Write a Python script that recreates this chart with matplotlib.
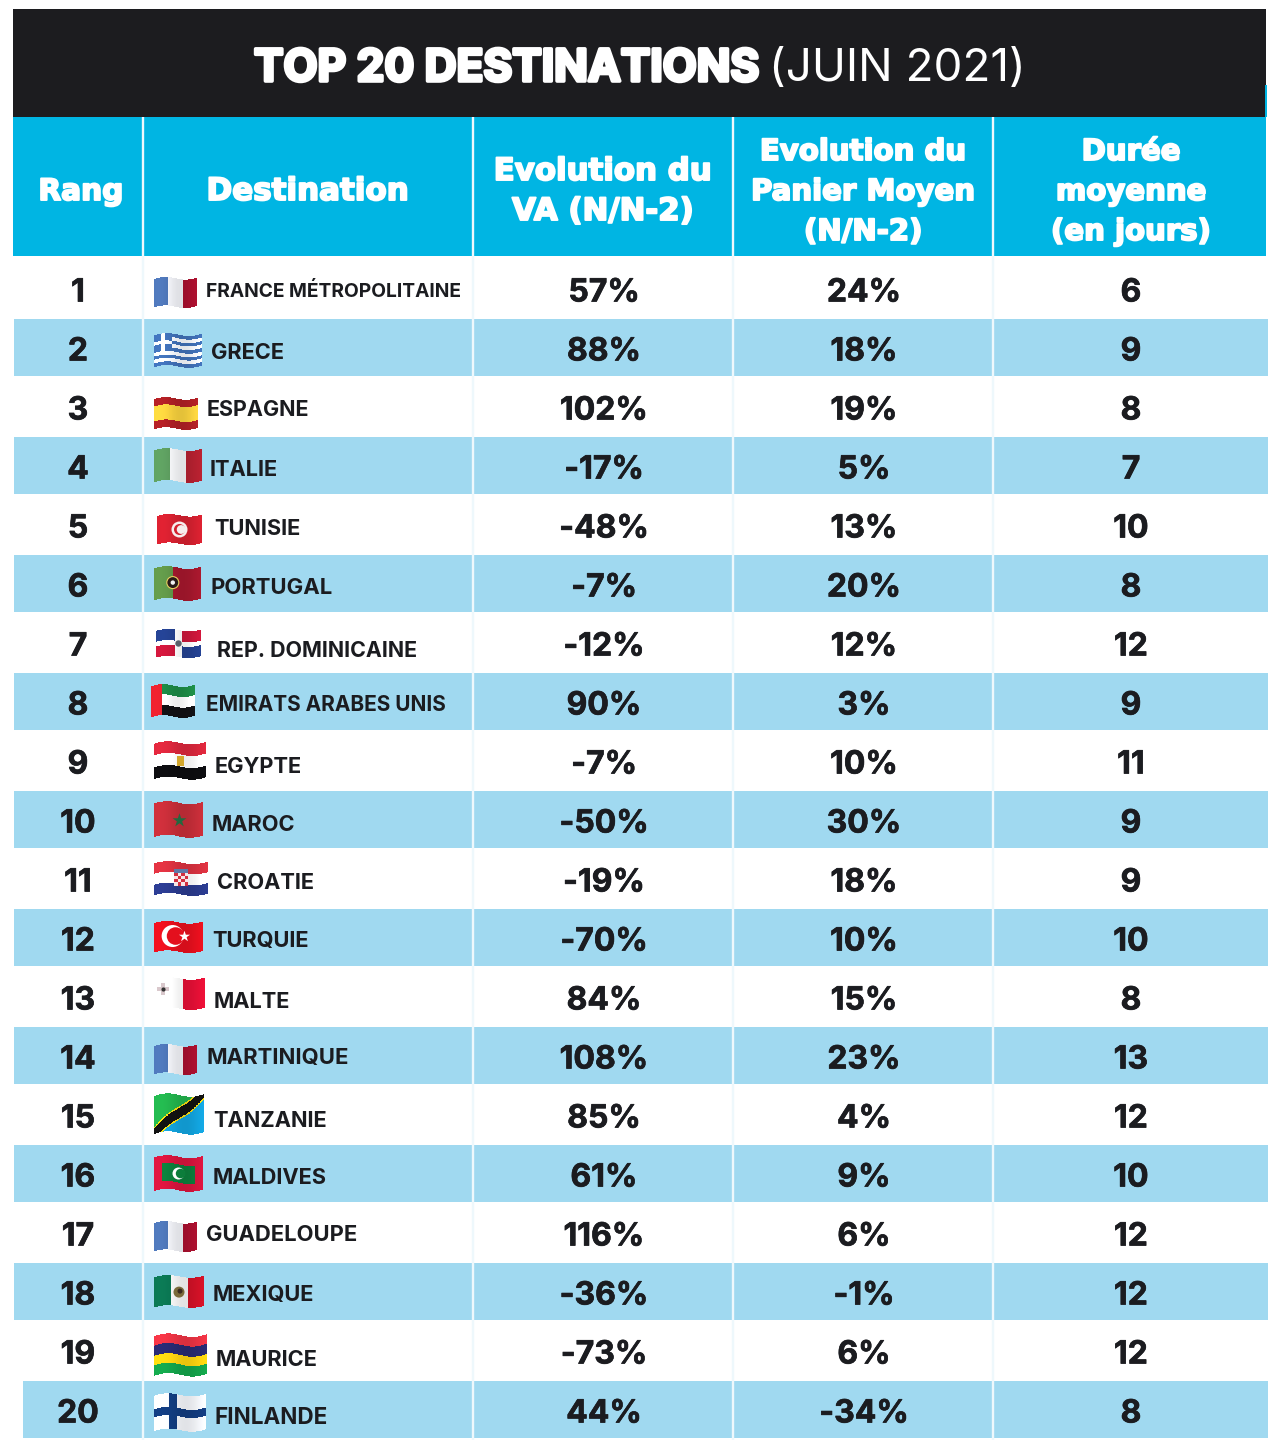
import numpy as np
import matplotlib
matplotlib.use("Agg")
import matplotlib.pyplot as plt
import matplotlib.patheffects as pe
from matplotlib.patches import Circle, Rectangle

W, H = 1273, 1447

ranks = list(range(1, 21))
destinations = ["FRANCE MÉTROPOLITAINE", "GRECE", "ESPAGNE", "ITALIE", "TUNISIE", "PORTUGAL",
                "REP. DOMINICAINE", "EMIRATS ARABES UNIS", "EGYPTE", "MAROC", "CROATIE", "TURQUIE",
                "MALTE", "MARTINIQUE", "TANZANIE", "MALDIVES", "GUADELOUPE", "MEXIQUE", "MAURICE",
                "FINLANDE"]
evol_va = [57, 88, 102, -17, -48, -7, -12, 90, -7, -50, -19, -70, 84, 108, 85, 61, 116, -36, -73, 44]
evol_panier = [24, 18, 19, 5, 13, 20, 12, 3, 10, 30, 18, 10, 15, 23, 4, 9, 6, -1, 6, -34]
duree = [6, 9, 8, 7, 10, 8, 12, 9, 11, 9, 9, 10, 8, 13, 12, 10, 12, 12, 12, 8]

flag_kinds = ["france", "greece", "spain", "italy", "tunisia", "portugal", "dominican", "uae", "egypt",
              "morocco", "croatia", "turkey", "malta", "france", "tanzania", "maldives", "france",
              "mexico", "mauritius", "finland"]

# layout, in pixels
flag_boxes = [(154, 197, 276, 309), (154, 202, 332, 369), (154, 198, 396, 431), (154, 202, 447, 484),
              (157, 202, 513, 546), (154, 201, 565, 602), (156, 201, 628, 659), (151, 195, 683, 719),
              (154, 206, 740, 781), (154, 203, 800, 839), (154, 208, 860, 897), (154, 203, 920, 954),
              (154, 205, 976, 1011), (154, 197, 1043, 1076), (154, 204, 1092, 1136), (154, 203, 1154, 1193),
              (154, 197, 1220, 1253), (154, 204, 1274, 1309), (154, 207, 1332, 1378), (154, 206, 1392, 1433)]
label_x = [206, 211, 207, 210, 214, 210, 217, 206, 215, 212, 217, 212, 214, 206, 213, 213, 206, 213, 216, 215]
label_dy = [-1, 2, 0, 1, 1, 1, 5, 0, 3, 2, 1, 0, 2, -1, 3, 1, -1, 0, 6, 5]
label_size = [13.8, 15.7, 15.5, 15.7, 15.7, 15.9, 15.4, 15.0, 15.7, 15.7, 15.7, 15.7, 15.7,
              15.9, 15.7, 15.7, 15.8, 15.7, 15.7, 16.2]
col_lines = [142.5, 473, 733, 993]
FIRST_ROW = 290
ROW_STEP = 59

BLACK = "#1c1c1f"
CYAN = "#00b5e3"
PALE = "#a0d9f0"
INK = "#1b1c20"
FONT = "Inter"

plt.rcParams["font.family"] = [FONT, "DejaVu Sans"]


def hstripes(v, cols):
    idx = np.minimum((v * len(cols)).astype(int), len(cols) - 1)
    return np.array(cols)[idx]


def vstripes(u, cols):
    return hstripes(u, cols)


def hexes(*cols):
    return [matplotlib.colors.to_rgb(c) for c in cols]


def flag_colors(kind, u, v):
    if kind == "france":
        return vstripes(u, hexes("#4c73b3", "#f0f1f6", "#a50f2d"))
    if kind == "greece":
        blue, white = hexes("#3f6fb5", "#f4f6fa")
        c = hstripes(v, [blue, white] * 4 + [blue])
        canton = (u < 0.37) & (v < 5 / 9)
        c[canton] = blue
        cross = canton & ((np.abs(u - 0.185) < 0.04) | (np.abs(v - 0.278) < 0.055))
        c[cross] = white
        return c
    if kind == "spain":
        return hstripes(v, hexes("#ad1f24", "#f5cf3d", "#f5cf3d", "#ad1f24"))
    if kind == "italy":
        return vstripes(u, hexes("#5b9a5d", "#f2f3f5", "#b2202f"))
    if kind == "tunisia":
        return hstripes(v, hexes("#d3202f"))
    if kind == "portugal":
        c = hstripes(v, hexes("#a3172c"))
        c[u < 0.4] = hexes("#5f9447")[0]
        return c
    if kind == "dominican":
        blue, red, white = hexes("#23408e", "#c9163a", "#ffffff")
        c = np.where((u < 0.5)[..., None] == (v < 0.5)[..., None], blue, red)
        c[(np.abs(u - 0.5) < 0.08) | (np.abs(v - 0.5) < 0.09)] = white
        return c
    if kind == "uae":
        c = hstripes(v, hexes("#1d8a45", "#ffffff", "#111114"))
        c[u < 0.26] = hexes("#e2202c")[0]
        return c
    if kind == "egypt":
        return hstripes(v, hexes("#d8263b", "#ffffff", "#0d0d10"))
    if kind == "morocco":
        return hstripes(v, hexes("#c42d38"))
    if kind == "croatia":
        return hstripes(v, hexes("#d8313f", "#ffffff", "#2a3a8c"))
    if kind == "turkey":
        return hstripes(v, hexes("#e40f1d"))
    if kind == "malta":
        c = hstripes(v, hexes("#e30f35"))
        c[u < 0.57] = hexes("#ffffff")[0]
        return c
    if kind == "tanzania":
        green, blue, black, yellow = hexes("#22b14c", "#12a2dc", "#111111", "#f5d90f")
        d = u + (v - 1) * 0.95
        c = np.where((d < 0)[..., None], green, blue)
        c[np.abs(d) < 0.17] = yellow
        c[np.abs(d) < 0.13] = black
        return c
    if kind == "maldives":
        c = hstripes(v, hexes("#d5143c"))
        c[(np.abs(u - 0.5) < 0.33) & (np.abs(v - 0.5) < 0.27)] = hexes("#0c7d3b")[0]
        return c
    if kind == "mexico":
        return vstripes(u, hexes("#0a7350", "#f4f4f4", "#ce1126"))
    if kind == "mauritius":
        return hstripes(v, hexes("#ea3343", "#27296f", "#fcd20f", "#13a24a"))
    if kind == "finland":
        blue, white = hexes("#123b7d", "#f2f4f8")
        c = hstripes(v, [white])
        c[(np.abs(u - 0.37) < 0.085) | (np.abs(v - 0.5) < 0.12)] = blue
        return c
    raise ValueError(kind)


def wave(u):
    return -np.sin(2 * np.pi * u) * 0.7 - 0.3 * (u - 0.5) * 2


def flag_xy(box, u, v):
    x0, x1, y0, y1 = box
    amp = 0.07 * (y1 - y0)
    x = x0 + u * (x1 - x0)
    y = y0 + amp + v * (y1 - y0 - 2 * amp) + amp * wave(u)
    return x, y


def draw_flag(ax, kind, box):
    un, vn = 100, 70
    ue = np.linspace(0, 1, un + 1)
    ve = np.linspace(0, 1, vn + 1)
    U, V = np.meshgrid(ue, ve)
    X, Y = flag_xy(box, U, V)
    uc, vc = np.meshgrid((ue[:-1] + ue[1:]) / 2, (ve[:-1] + ve[1:]) / 2)
    c = flag_colors(kind, uc, vc).astype(float)
    shade = 1 + 0.07 * np.sin(2 * np.pi * uc + 0.9)
    c = np.clip(c * shade[..., None], 0, 1)
    ax.pcolormesh(X, Y, c, shading="flat", antialiased=False, zorder=3)
    emblem(ax, kind, box)


def crescent(ax, xy, r, fg, bg, dx=0.3):
    ax.add_patch(Circle(xy, r, fc=fg, ec="none", zorder=4))
    ax.add_patch(Circle((xy[0] + r * dx, xy[1]), r * 0.8, fc=bg, ec="none", zorder=4))


def emblem(ax, kind, box):
    if kind == "tunisia":
        x, y = flag_xy(box, 0.5, 0.5)
        ax.add_patch(Circle((x, y), 8, fc="#f6eeee", ec="none", zorder=4))
        crescent(ax, (x, y), 5.5, "#d3202f", "#f6eeee")
    elif kind == "portugal":
        x, y = flag_xy(box, 0.4, 0.5)
        ax.add_patch(Circle((x, y), 6, fc="#2a1a18", ec="#e8d060", lw=0.8, zorder=4))
        ax.add_patch(Circle((x, y), 2.2, fc="#f2f2f2", ec="none", zorder=5))
    elif kind == "dominican":
        x, y = flag_xy(box, 0.5, 0.5)
        ax.add_patch(Circle((x, y), 3.2, fc="#59606a", ec="none", zorder=4))
    elif kind == "egypt":
        x, y = flag_xy(box, 0.5, 0.5)
        ax.add_patch(Rectangle((x - 3.5, y - 5), 7, 10, fc="#d3a72c", ec="none", zorder=4))
    elif kind == "morocco":
        x, y = flag_xy(box, 0.5, 0.5)
        ax.scatter([x], [y], marker="*", s=110, c="#24683f", linewidths=0, zorder=4)
    elif kind == "croatia":
        x, y = flag_xy(box, 0.5, 0.5)
        ax.add_patch(Rectangle((x - 7, y - 8), 14, 15, fc="#f6e6e6", ec="none", zorder=4))
        for i in range(4):
            for j in range(4):
                if (i + j) % 2 == 0:
                    ax.add_patch(Rectangle((x - 7 + 3.5 * i, y - 6 + 3.3 * j), 3.5, 3.3, fc="#d23040", ec="none", zorder=5))
        ax.add_patch(Rectangle((x - 7, y - 10), 14, 4, fc="#5e7aa8", ec="none", zorder=4))
    elif kind == "turkey":
        x, y = flag_xy(box, 0.38, 0.5)
        crescent(ax, (x, y), 11, "#ffffff", "#e40f1d", dx=0.27)
        ax.scatter([x + 11], [y], marker="*", s=70, c="#ffffff", linewidths=0, zorder=5)
    elif kind == "malta":
        x, y = flag_xy(box, 0.18, 0.38)
        ax.scatter([x], [y], marker="P", s=70, c="#d9c8cc", linewidths=0, zorder=4)
        ax.scatter([x], [y], marker="o", s=9, c="#333333", linewidths=0, zorder=5)
    elif kind == "maldives":
        x, y = flag_xy(box, 0.5, 0.5)
        crescent(ax, (x, y), 6, "#ffffff", "#0c7d3b", dx=0.35)
    elif kind == "mexico":
        x, y = flag_xy(box, 0.5, 0.52)
        ax.add_patch(Circle((x, y), 5.5, fc="#7a6a3a", ec="none", zorder=4))
        ax.add_patch(Circle((x + 1, y - 1), 2.5, fc="#3a2a20", ec="none", zorder=5))


def heavy(color, w):
    return [pe.withStroke(linewidth=w, foreground=color)]


fig = plt.figure(figsize=(W / 100, H / 100), dpi=100)
ax = fig.add_axes([0, 0, 1, 1])

# bands
ax.add_patch(Rectangle((13, 9), 1253, 108, fc=BLACK, ec="none"))
ax.add_patch(Rectangle((13, 117), 1253, 139, fc=CYAN, ec="none"))
ax.add_patch(Rectangle((1265, 85), 2, 32, fc=CYAN, ec="none"))
for i in range(1, 20, 2):
    yc = FIRST_ROW + ROW_STEP * i
    left = 23 if i == 19 else 14
    ax.add_patch(Rectangle((left, yc - 30), 1268 - left, 57, fc=PALE, ec="none", zorder=1))
for x in col_lines:
    ax.plot([x, x], [117, 1440], color="#eef8fc", lw=1.7, solid_capstyle="butt", zorder=2)

# title
ax.text(254, 81, "TOP 20 DESTINATIONS", color="white", fontsize=31.8, fontweight="bold", ha="left", va="baseline",
        path_effects=heavy("white", 2.6))
ax.text(769, 81, "(JUIN 2021)", color="white", fontsize=33, fontweight="normal", ha="left", va="baseline")

# header
header_labels = [["Rang"], ["Destination"], ["Evolution du", "VA (N/N-2)"],
                 ["Evolution du", "Panier Moyen", "(N/N-2)"], ["Durée", "moyenne", "(en jours)"]]
header_x = [81, 308, 603, 863, 1131]
header_size = [21.3, 22.3, 22.2, 21, 21]
for x, lines, size in zip(header_x, header_labels, header_size):
    y_first = 189 - 20 * (len(lines) - 1)
    for k, line in enumerate(lines):
        ax.text(x, y_first + 40 * k + 11, line, color="white", fontsize=size, fontweight="bold", ha="center",
                va="baseline", family="DejaVu Sans", path_effects=heavy("white", 1.4))

# rows
for i in range(len(ranks)):
    yc = FIRST_ROW + ROW_STEP * i
    base = yc + 11.5
    for x, s in zip([78, 604, 864, 1131],
                    [str(ranks[i]), f"{evol_va[i]}%", f"{evol_panier[i]}%", str(duree[i])]):
        ax.text(x, base, s, color=INK, fontsize=23, fontweight="bold", ha="center", va="baseline",
                path_effects=heavy(INK, 0.5))
    ax.text(label_x[i], yc + label_dy[i] + 8.3, destinations[i], color=INK, fontsize=label_size[i],
            fontweight="bold", ha="left", va="baseline")
    draw_flag(ax, flag_kinds[i], flag_boxes[i])

ax.set_xlim(0, W)
ax.set_ylim(H, 0)
ax.axis("off")
fig.savefig("out.png", dpi=100)
